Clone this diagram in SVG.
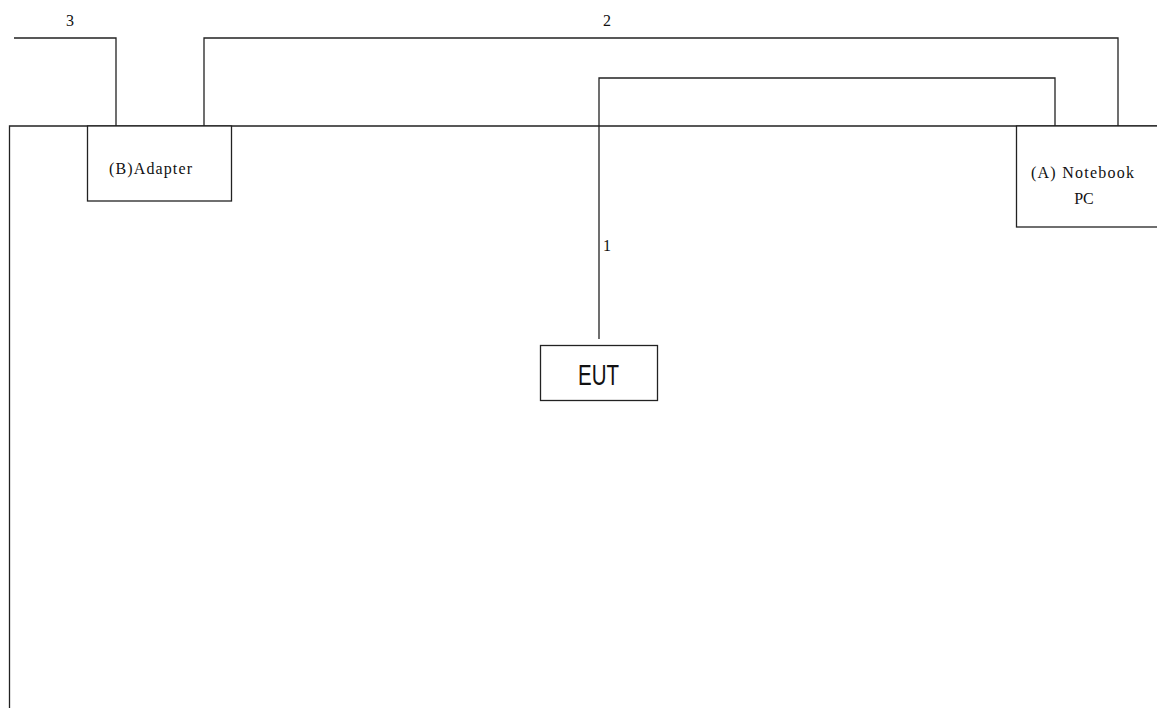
<svg xmlns="http://www.w3.org/2000/svg" width="1157" height="708" viewBox="0 0 1157 708">
<style>
.ln{fill:none;stroke:#222;stroke-width:1.3}
.bx{fill:#fff;stroke:#222;stroke-width:1.3}
.sf{font-family:"Liberation Serif","Times New Roman",serif;font-size:16px;fill:#111}
.ss{font-family:"Liberation Sans","DejaVu Sans",sans-serif;font-size:30px;fill:#111}
</style>
<rect width="1157" height="708" fill="#fff"/>
<g id="connectors">
<path class="ln" d="M9.5,708 V126 H1157"/>
<path class="ln" d="M14,38 H116 V126"/>
<path class="ln" d="M204,126 V38 H1118 V126"/>
<path class="ln" d="M599,339 V78 H1055 V126"/>
<text class="sf" x="70" y="26" text-anchor="middle">3</text>
<text class="sf" x="607" y="26" text-anchor="middle">2</text>
<text class="sf" x="603" y="251">1</text>
</g>
<g id="adapter">
<rect class="bx" x="87.5" y="126" width="144" height="75"/>
<text class="sf" x="109" y="174" textLength="83" lengthAdjust="spacing">(B)Adapter</text>
</g>
<g id="notebook">
<rect class="bx" x="1016.5" y="126" width="150" height="101"/>
<text class="sf" x="1031" y="178" textLength="103" lengthAdjust="spacing">(A) Notebook</text>
<text class="sf" x="1084" y="204" text-anchor="middle">PC</text>
</g>
<g id="eut">
<rect class="bx" x="540.5" y="345.5" width="117" height="55"/>
<text class="ss" x="578" y="385" textLength="41" lengthAdjust="spacingAndGlyphs">EUT</text>
</g>
</svg>
